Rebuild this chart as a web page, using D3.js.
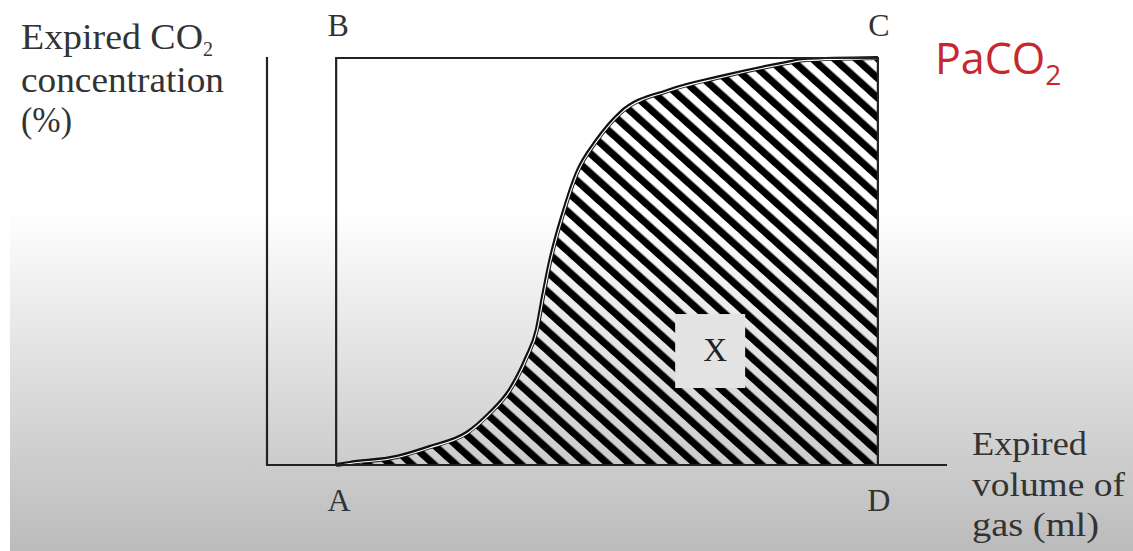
<!DOCTYPE html>
<html>
<head>
<meta charset="utf-8">
<script src="https://cdn.jsdelivr.net/npm/d3@7"></script>
<style>
  html, body { margin: 0; padding: 0; background: #fff; }
  svg { display: block; }
</style>
</head>
<body>
<svg id="chart" width="1133" height="551"></svg>
<script>
// ---- data (arbitrary units: volume 0-100, CO2 0-100 %) ----
const curveVolume = [10.2, 12.2, 19.2, 24.0, 29.5, 32.9, 35.8, 38.3, 39.8, 40.7, 41.7, 43.7, 45.7, 48.7, 52.1, 59.4, 66.8, 76.7, 79.1, 90.1];
const curveCO2    = [0,    0.5,  2.0,  4.4,  7.9,  12.8, 18.4, 26.5, 33.2, 41.3, 49.6, 61.9, 71.7, 79.9, 86.5, 92.1, 95.3, 98.8, 99.5, 100];
const boxCorners  = ["A", "B", "C", "D"];
const boxVolume   = [10.2, 10.2, 90.1, 90.1];
const boxCO2      = [0, 100, 100, 0];
const yLabelLines = ["Expired CO", "concentration", "(%)"];
const xLabelLines = ["Expired", "volume of", "gas (ml)"];

const svg = d3.select("#chart");
const W = 1133, H = 551;

// background: white top fading to gray
const defs = svg.append("defs");
const grad = defs.append("linearGradient").attr("id", "bg").attr("x1", 0).attr("y1", 0).attr("x2", 0).attr("y2", 1);
grad.append("stop").attr("offset", 210 / H).attr("stop-color", "#ffffff");
grad.append("stop").attr("offset", 1).attr("stop-color", "#bbbbbb");
svg.append("rect").attr("width", W).attr("height", H).attr("fill", "url(#bg)");
svg.append("rect").attr("width", 10).attr("height", H).attr("fill", "#ffffff");

// hatch pattern
const P = 14.6;
const pat = defs.append("pattern").attr("id", "hatch").attr("patternUnits", "userSpaceOnUse")
  .attr("width", P).attr("height", P).attr("patternTransform", "rotate(-48)");
pat.append("rect").attr("x", 0).attr("y", 0).attr("width", 7.2).attr("height", P).attr("fill", "#000");

const x = d3.scaleLinear().domain([0, 100]).range([267, 945]);
const y = d3.scaleLinear().domain([0, 100]).range([465, 58]);

const pts = curveVolume.map((v, i) => [v, curveCO2[i]]);

// hatched area
const area = d3.area().x(d => x(d[0])).y0(y(0)).y1(d => y(d[1])).curve(d3.curveMonotoneX);
svg.append("path").datum(pts).attr("d", area).attr("fill", "url(#hatch)");

// curve outline (double line)
const line = d3.line().x(d => x(d[0])).y(d => y(d[1])).curve(d3.curveMonotoneX);
svg.append("path").datum(pts).attr("d", line).attr("fill", "none").attr("stroke", "#111").attr("stroke-width", 4.2);
svg.append("path").datum(pts).attr("d", line).attr("fill", "none").attr("stroke", "#fff").attr("stroke-width", 1.1)
  .attr("transform", "translate(0.4,0.6)");

// "X" label with cleared patch
const bgAt = yy => d3.interpolateRgb("#ffffff", "#bbbbbb")(Math.max(0, (yy - 210) / (H - 210)));
const xc = x(66.1), yc = y(28.0);
svg.append("rect").attr("x", xc - 40).attr("y", yc - 37).attr("width", 70).attr("height", 74).attr("fill", bgAt(yc));
svg.append("text").attr("x", xc).attr("y", yc + 10).attr("text-anchor", "middle")
  .attr("font-family", "Liberation Serif, serif").attr("font-size", 33).attr("fill", "#222").text("X");

// box lines A-B-C-D
const boxPts = boxVolume.map((v, i) => [v, boxCO2[i]]);
svg.append("path").attr("d", d3.line().x(d => x(d[0])).y(d => y(d[1]))(boxPts))
  .attr("fill", "none").attr("stroke", "#222").attr("stroke-width", 2.2);

// axes
svg.append("line").attr("x1", x(0)).attr("x2", x(0)).attr("y1", y(100) - 1).attr("y2", y(0) + 1)
  .attr("stroke", "#222").attr("stroke-width", 2.2);
svg.append("line").attr("x1", x(0)).attr("x2", x(100) + 2).attr("y1", y(0)).attr("y2", y(0))
  .attr("stroke", "#222").attr("stroke-width", 2.2);

// corner letters
const serif = "Liberation Serif, Times New Roman, serif";
boxCorners.forEach((c, i) => {
  const top = boxCO2[i] > 0;
  svg.append("text")
    .attr("x", x(boxVolume[i]) + (c === "A" ? 3 : c === "B" ? 2 : 1))
    .attr("y", top ? y(boxCO2[i]) - 22 : y(boxCO2[i]) + 46)
    .attr("text-anchor", "middle").attr("font-family", serif).attr("font-size", 32)
    .attr("fill", "#333").text(c);
});

// y-axis label
const yl = svg.append("g").attr("font-family", serif).attr("font-size", 35).attr("fill", "#333");
const yBase = [49, 92, 132];
const yWidths = [182, 203, 51];
yLabelLines.forEach((t, i) => {
  const tx = yl.append("text").attr("x", 21).attr("y", yBase[i]);
  tx.append("tspan").attr("textLength", yWidths[i]).attr("lengthAdjust", "spacingAndGlyphs").text(t);
  if (i === 0) tx.append("tspan").attr("font-size", 20).attr("dy", 7).text("2");
});

// x-axis label
const xl = svg.append("g").attr("font-family", serif).attr("font-size", 34).attr("fill", "#333");
const xBase = [455, 496, 536];
const xWidths = [115, 153, 127];
xLabelLines.forEach((t, i) => {
  xl.append("text").attr("x", 972).attr("y", xBase[i])
    .attr("textLength", xWidths[i]).attr("lengthAdjust", "spacingAndGlyphs").text(t);
});

// PaCO2
const pa = svg.append("text").attr("x", 935).attr("y", 74)
  .attr("font-family", "Open Sans, Liberation Sans, sans-serif").attr("font-size", 43).attr("fill", "#c5282e").text("PaCO");
pa.append("tspan").attr("font-size", 28).attr("dy", 11).text("2");
</script>
</body>
</html>
